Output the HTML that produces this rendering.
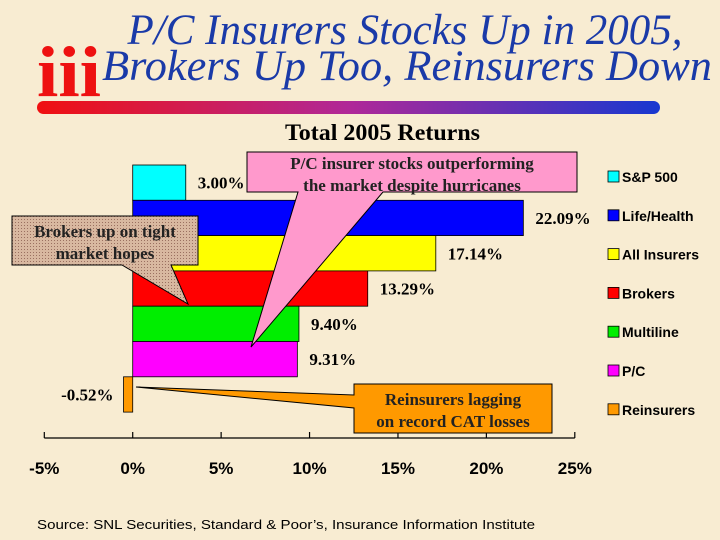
<!DOCTYPE html>
<html><head><meta charset="utf-8"><style>
html,body{margin:0;padding:0;background:#f8ecd2;}
svg{display:block;}
</style></head><body>
<svg width="720" height="540" viewBox="0 0 720 540" xmlns="http://www.w3.org/2000/svg">
<defs>
<linearGradient id="gb" x1="0" x2="1" y1="0" y2="0"><stop offset="0" stop-color="#f01010"/><stop offset="0.5" stop-color="#b02898"/><stop offset="1" stop-color="#1838d0"/></linearGradient>
<pattern id="hatch" width="3" height="3" patternUnits="userSpaceOnUse"><rect width="3" height="3" fill="#d8b8a0"/><rect width="1" height="1" fill="#9a7060"/></pattern>
</defs>
<rect width="720" height="540" fill="#f8ecd2"/>
<text x="37" y="96" font-family="Liberation Serif, serif" font-weight="bold" font-size="72" fill="#ee1111" textLength="64" lengthAdjust="spacingAndGlyphs">iii</text>
<text x="405" y="44" text-anchor="middle" font-family="Liberation Serif, serif" font-style="italic" font-size="43" fill="#1a3aa8">P/C Insurers Stocks Up in 2005,</text>
<text x="102" y="80" font-family="Liberation Serif, serif" font-style="italic" font-size="43" fill="#1a3aa8" textLength="610" lengthAdjust="spacingAndGlyphs">Brokers Up Too, Reinsurers Down</text>
<rect x="37" y="101" width="623" height="13" rx="6.5" fill="url(#gb)"/>
<text x="285" y="140" font-family="Liberation Serif, serif" font-size="23" font-weight="bold" fill="#000" textLength="195" lengthAdjust="spacingAndGlyphs">Total 2005 Returns</text>
<g id="chart"></g>
<text x="37" y="529" font-family="Liberation Sans, sans-serif" font-size="13" fill="#000" textLength="498" lengthAdjust="spacingAndGlyphs">Source: SNL Securities, Standard &amp; Poor’s, Insurance Information Institute</text>
</svg>
<script>
const categories = ["S&P 500","Life/Health","All Insurers","Brokers","Multiline","P/C","Reinsurers"];
const values = [3.00, 22.09, 17.14, 13.29, 9.40, 9.31, -0.52];
const valueLabels = ["3.00%","22.09%","17.14%","13.29%","9.40%","9.31%","-0.52%"];
const colors = ["#00ffff","#0000ff","#ffff00","#ff0000","#00ee00","#ff00ff","#ff9900"];
const ticks = [-5,0,5,10,15,20,25];
const tickLabels = ["-5%","0%","5%","10%","15%","20%","25%"];

const NS="http://www.w3.org/2000/svg";
const chartG=document.getElementById('chart');
const xLeft=44.3, xRight=574.8, xmin=-5, xmax=25;
const X=v=>xLeft+(v-xmin)/(xmax-xmin)*(xRight-xLeft);
const plotTop=165, band=35.3;
function mk(tag,attrs){const e=document.createElementNS(NS,tag);for(const k in attrs)e.setAttribute(k,attrs[k]);chartG.appendChild(e);return e;}

const ax=mk('line',{x1:X(-5),x2:X(25),y1:438,y2:438,stroke:'#000','stroke-width':1.2});


ticks.forEach((t,i)=>{
  const tk=mk('line',{x1:X(t),x2:X(t),y1:432,y2:438,stroke:'#000','stroke-width':1.2});
  
  
  const tl=mk('text',{x:X(t),y:474,'text-anchor':'middle','font-family':'Liberation Sans, sans-serif','font-weight':'bold','font-size':17});
  tl.textContent=tickLabels[i];
  
  
});

values.forEach((v,i)=>{
  const y=plotTop+i*band;
  const xa=X(Math.min(0,v)), xb=X(Math.max(0,v));
  const r=mk('rect',{x:xa,y:y,width:Math.max(xb-xa,1),height:band,fill:colors[i],stroke:'#000','stroke-width':0.8});
  
  
  const t=mk('text',{y:y+band/2+6,'font-family':'Liberation Serif, serif','font-weight':'bold','font-size':17});
  if(v>=0){t.setAttribute('x',xb+12);} else {t.setAttribute('x',xa-10);t.setAttribute('text-anchor','end');}
  t.textContent=valueLabels[i];
  
  
  const ly=177+i*38.8;
  const ls=mk('rect',{x:608,y:ly-6,width:11,height:11,fill:colors[i],stroke:'#000','stroke-width':0.8});
  
  
  const lt=mk('text',{x:622,y:ly+5,'font-family':'Liberation Sans, sans-serif','font-weight':'bold','font-size':14});
  lt.textContent=categories[i];
  
  
});

function callout(name,poly,fill,lines,cx,cy){
  const p=mk('path',{d:poly,fill:fill,stroke:'#000','stroke-width':1});
  
  
  lines.forEach((l,k)=>{
    const t=mk('text',{x:cx,y:cy+k*22,'text-anchor':'middle','font-family':'Liberation Serif, serif','font-weight':'bold','font-size':17,fill:'#222'});
    t.textContent=l;
    
    
  });
}
callout('pc-callout','M247 152 H577 V192 H383 L251 347 L298 192 H247 Z','#ff99cc',['P/C insurer stocks outperforming','the market despite hurricanes'],412,169);
callout('brokers-callout','M12 216 H198 V265 H171 L188 304 L122 265 H12 Z','url(#hatch)',['Brokers up on tight','market hopes'],105,237);
callout('reinsurers-callout','M354 384 H552 V433 H354 V408 L136 387 L354 395 Z','#ff9900',['Reinsurers lagging','on record CAT losses'],453,405);
</script>
</body></html>
